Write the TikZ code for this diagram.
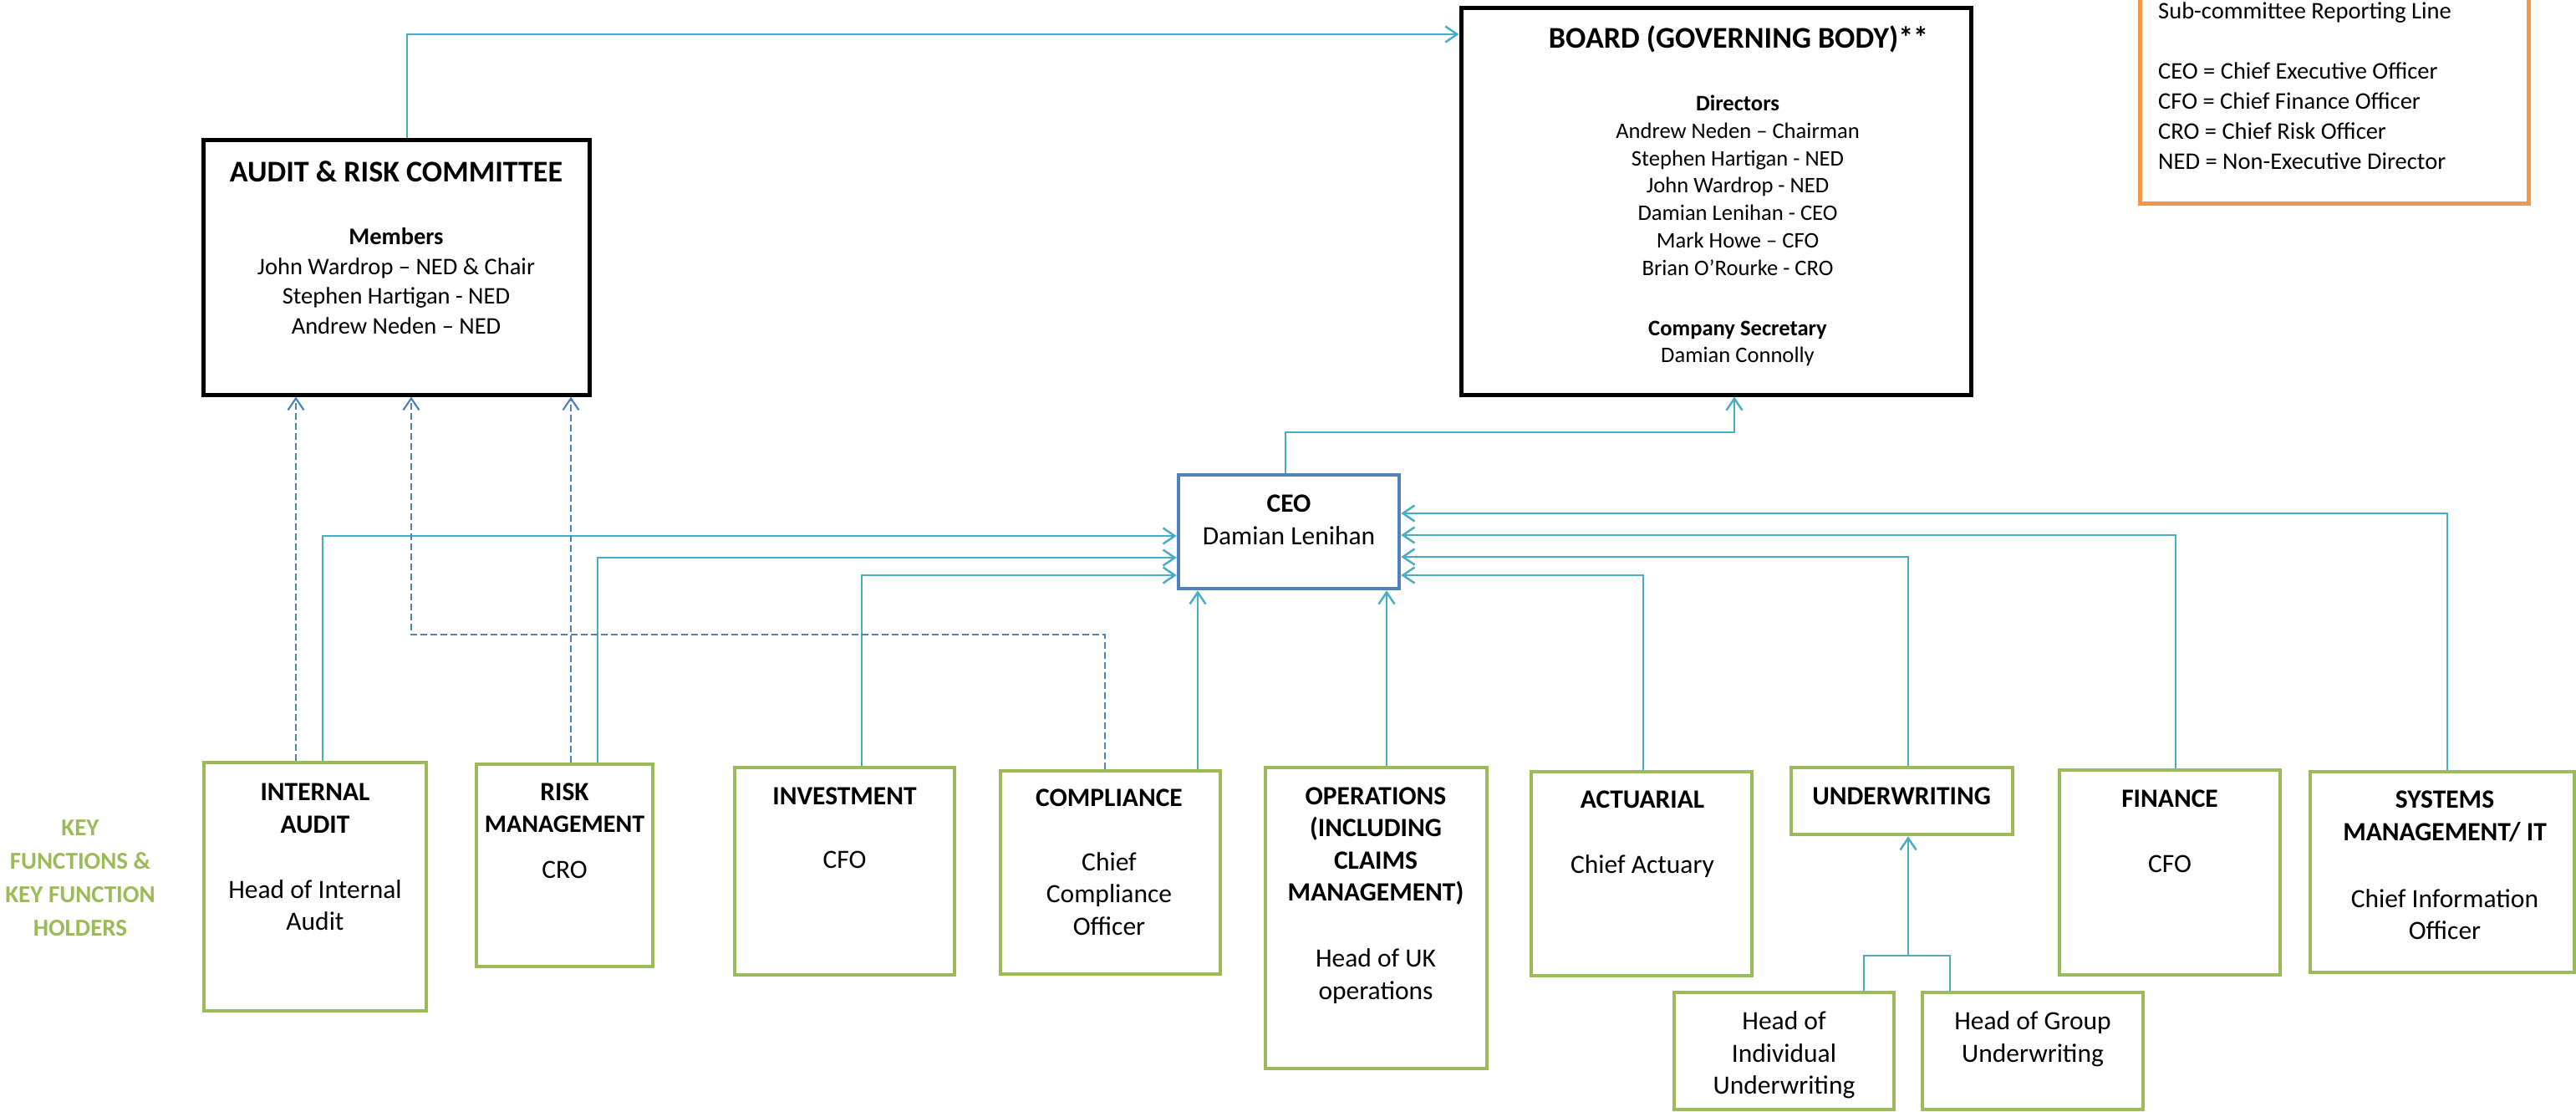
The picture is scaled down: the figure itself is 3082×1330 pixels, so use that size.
\documentclass[tikz,border=0pt]{standalone}
\usepackage{fontspec}
\setmainfont{Carlito}
\usetikzlibrary{arrows.meta}
\definecolor{aqua}{HTML}{4BACC6}
\definecolor{dblue}{HTML}{4F81BD}
\definecolor{kfgreen}{HTML}{9BBB59}
\definecolor{legorange}{HTML}{F79646}
\begin{document}
\begin{tikzpicture}[x=1pt,y=-1pt,
  blackbox/.style={draw=black, line width=5pt, inner sep=0pt},
  greenbox/.style={draw=kfgreen, line width=4.5pt, inner sep=0pt},
  ceobox/.style={draw=dblue, line width=4.5pt, inner sep=0pt},
  legbox/.style={draw=legorange, line width=5pt, inner sep=0pt},
  conn/.style={draw=aqua, line width=2.5pt, -{Straight Barb[length=14pt,width=19pt]}},
  plainconn/.style={draw=aqua, line width=2.5pt},
  dconn/.style={draw=dblue, line width=2.2pt, dash pattern=on 8pt off 4pt, -{Straight Barb[length=14pt,width=19pt]}},
  body/.style={align=center, inner sep=0pt, font=\fontsize{31.5}{38.5}\selectfont},
  bigtitle/.style={inner sep=0pt, font=\fontsize{36}{44}\selectfont\bfseries},
  memtext/.style={align=center, inner sep=0pt, font=\fontsize{28.5}{35.5}\selectfont},
  dirtext/.style={align=center, inner sep=0pt, font=\fontsize{26.6}{32.8}\selectfont},
  legtext/.style={align=left, inner sep=0pt, font=\fontsize{28.5}{36}\selectfont},
  keytext/.style={align=center, inner sep=0pt, text=kfgreen, font=\fontsize{29}{40}\selectfont\bfseries}
]
\useasboundingbox (0,0) rectangle (3082,1330);

% ---- legend ----
\node[legbox, minimum width=465pt, minimum height=273pt] (legend) at (2792.5,106.5) {};
\node[legtext, anchor=west] (legendtext) at (2582,103) {Sub-committee Reporting Line\\[36pt]CEO = Chief Executive Officer\\CFO = Chief Finance Officer\\CRO = Chief Risk Officer\\NED = Non-Executive Director};

% ---- audit & risk committee ----
\node[blackbox, minimum width=462pt, minimum height=305pt] (audit) at (474,319.5) {};
\node[bigtitle] (audittitle) at (474,205) {AUDIT \& RISK COMMITTEE};
\node[memtext] (audittext) at (474,336) {\textbf{Members}\\John Wardrop – NED \& Chair\\Stephen Hartigan - NED\\Andrew Neden – NED};

% ---- board ----
\node[blackbox, minimum width=610pt, minimum height=462pt] (board) at (2053,241) {};
\node[bigtitle] (boardtitle) at (2080,47) {BOARD (GOVERNING BODY)**};
\node[dirtext] (boardtext) at (2079,276) {\textbf{Directors}\\Andrew Neden – Chairman\\Stephen Hartigan - NED\\John Wardrop - NED\\Damian Lenihan - CEO\\Mark Howe – CFO\\Brian O’Rourke - CRO\\[39pt]\textbf{Company Secretary}\\Damian Connolly};

% ---- CEO ----
\node[ceobox, minimum width=264pt, minimum height=136pt] (ceo) at (1542,636) {};
\node[body] (ceotext) at (1542,622) {\textbf{CEO}\\Damian Lenihan};

% ---- key functions label ----
\node[keytext] (keylabel) at (96,1050) {KEY\\FUNCTIONS \&\\KEY FUNCTION\\HOLDERS};

% ---- key function boxes ----
\node[greenbox, minimum width=266pt, minimum height=297pt] (ia) at (377,1060.5) {};
\node[body] (iatext) at (377,1025) {\textbf{INTERNAL}\\\textbf{AUDIT}\\[39.5pt]Head of Internal\\Audit};

\node[greenbox, minimum width=211pt, minimum height=242pt] (rm) at (675.5,1035) {};
\node[body] (rmtext) at (675.5,994) {\textbf{RISK}\\\textbf{\fontsize{30}{38.5}\selectfont MANAGEMENT}\\[16.5pt]CRO};

\node[greenbox, minimum width=263pt, minimum height=248pt] (inv) at (1010.5,1042) {};
\node[body] (invtext) at (1010.5,990) {\textbf{INVESTMENT}\\[37.5pt]CFO};

\node[greenbox, minimum width=263pt, minimum height=243pt] (comp) at (1328.5,1043.5) {};
\node[body] (comptext) at (1327,1031) {\textbf{COMPLIANCE}\\[38.5pt]Chief\\Compliance\\Officer};

\node[greenbox, minimum width=265pt, minimum height=360pt] (ops) at (1646.5,1098) {};
\node[body] (opstext) at (1646,1071) {\textbf{OPERATIONS}\\\textbf{(INCLUDING}\\\textbf{CLAIMS}\\\textbf{MANAGEMENT)}\\[40.5pt]Head of UK\\operations};

\node[greenbox, minimum width=264pt, minimum height=244pt] (act) at (1964,1045) {};
\node[body] (acttext) at (1965,998) {\textbf{ACTUARIAL}\\[39.5pt]Chief Actuary};

\node[greenbox, minimum width=265pt, minimum height=80pt] (uw) at (2275.5,958) {};
\node[body] (uwtext) at (2275,952) {\textbf{UNDERWRITING}};

\node[greenbox, minimum width=264pt, minimum height=245pt] (fin) at (2596,1043.5) {};
\node[body] (fintext) at (2596,994) {\textbf{FINANCE}\\[39.5pt]CFO};

\node[greenbox, minimum width=316pt, minimum height=240pt] (sys) at (2922,1043) {};
\node[body] (systext) at (2925,1035) {\textbf{SYSTEMS}\\\textbf{MANAGEMENT/ IT}\\[41.5pt]Chief Information\\Officer};

\node[greenbox, minimum width=263pt, minimum height=140pt] (hi) at (2134.5,1257) {};
\node[body] (hitext) at (2134.5,1262) {Head of\\Individual\\Underwriting};

\node[greenbox, minimum width=264pt, minimum height=140pt] (hg) at (2432,1257) {};
\node[body] (hgtext) at (2432,1243) {Head of Group\\Underwriting};

% ---- solid reporting lines ----
\draw[conn] ([xshift=13pt]audit.north) |- ([yshift=200pt]board.west);
\draw[conn] ([xshift=-4pt]ceo.north) -- ++(0,-49) -| ([xshift=22pt]board.south);
\draw[conn] ([xshift=9pt]ia.north) |- ([yshift=-5pt]ceo.west);
\draw[conn] ([xshift=39.5pt]rm.north) |- ([yshift=-31pt]ceo.west);
\draw[conn] ([xshift=20.5pt]inv.north) |- ([yshift=-52pt]ceo.west);
\draw[conn] ([xshift=104.5pt]comp.north) -- ([xshift=-109pt]ceo.south);
\draw[conn] ([xshift=12.5pt]ops.north) -- ([xshift=117pt]ceo.south);
\draw[conn] ([xshift=2pt]act.north) |- ([yshift=-52pt]ceo.east);
\draw[conn] ([xshift=7.5pt]uw.north) |- ([yshift=-30pt]ceo.east);
\draw[conn] ([xshift=7pt]fin.north) |- ([yshift=-4pt]ceo.east);
\draw[conn] ([xshift=6pt]sys.north) |- ([yshift=22pt]ceo.east);
\draw[conn] ([xshift=95.5pt]hi.north) -- ++(0,-42) -| ([xshift=7.5pt]uw.south);
\draw[plainconn] ([xshift=-99pt]hg.north) -- ++(0,-42) -- ([xshift=95.5pt,yshift=42pt]hi.north);

% ---- dashed sub-committee reporting lines ----
\draw[dconn] ([xshift=-23pt]ia.north) -- ([xshift=-120pt]audit.south);
\draw[dconn] ([xshift=7.5pt]rm.north) -- ([xshift=209pt]audit.south);
\draw[dconn] ([xshift=-6.5pt]comp.north) -- ++(0,-161) -| ([xshift=18pt]audit.south);
\end{tikzpicture}
\end{document}
